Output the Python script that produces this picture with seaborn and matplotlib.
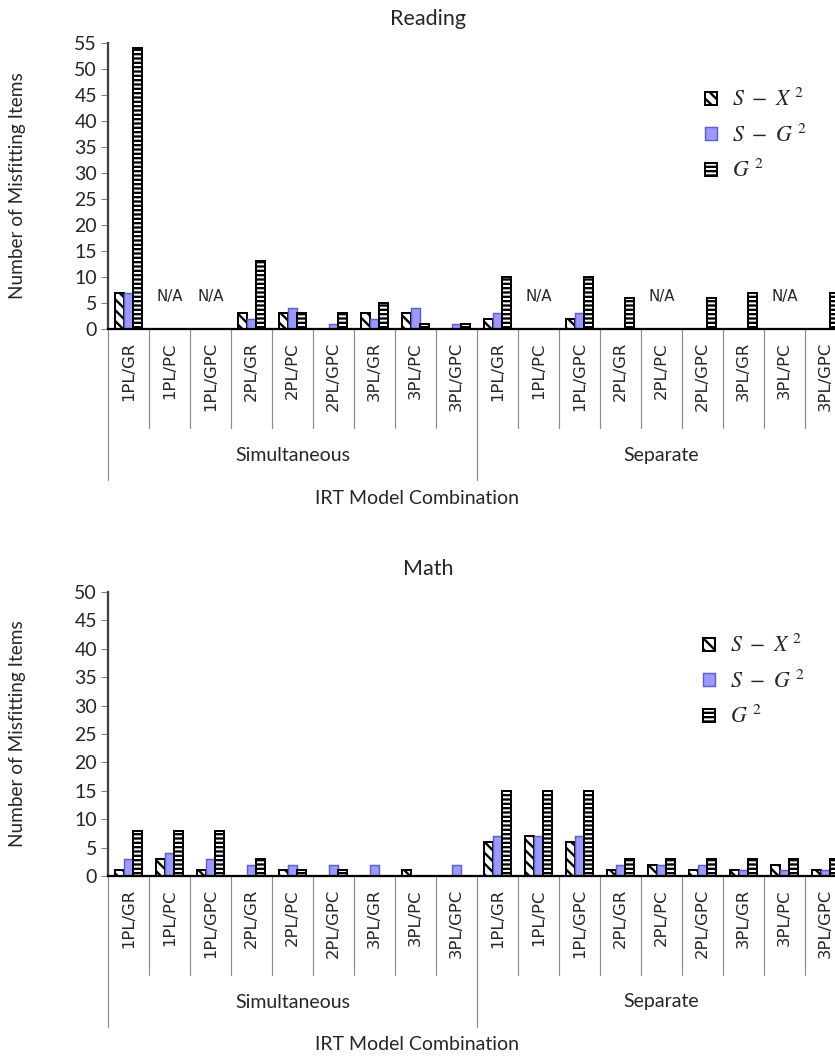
import numpy as np
import pandas as pd
import seaborn as sns
import matplotlib.pyplot as plt
from matplotlib.patches import Patch

DPI = 130
W, H = 835, 1061


def pt(px):
    # pixel size -> points at this dpi
    return px * 72 / DPI


nan = np.nan
groups = ["Simultaneous", "Separate"]
models = ["1PL/GR", "1PL/PC", "1PL/GPC", "2PL/GR", "2PL/PC", "2PL/GPC",
          "3PL/GR", "3PL/PC", "3PL/GPC"]
stats = ["S-X2", "S-G2", "G2"]
stat_labels = [r"$S\ -\ X^{\ 2}$", r"$S\ -\ G^{\ 2}$", r"$G^{\ 2}$"]

# Reading: Simultaneous then Separate (nan = N/A)
reading_sx2 = [7, nan, nan, 3, 3, 0, 3, 3, 0,
               2, nan, 2, 0, nan, 0, 0, nan, 0]
reading_sg2 = [7, nan, nan, 2, 4, 1, 2, 4, 1,
               3, nan, 3, 0, nan, 0, 0, nan, 0]
reading_g2 = [54, nan, nan, 13, 3, 3, 5, 1, 1,
              10, nan, 10, 6, nan, 6, 7, nan, 7]

# Math
math_sx2 = [1, 3, 1, 0, 1, 0, 0, 1, 0,
            6, 7, 6, 1, 2, 1, 1, 2, 1]
math_sg2 = [3, 4, 3, 2, 2, 2, 2, 0, 2,
            7, 7, 7, 2, 2, 2, 1, 1, 1]
math_g2 = [8, 8, 8, 3, 1, 1, 0, 0, 0,
           15, 15, 15, 3, 3, 3, 3, 3, 3]

styles = {
    "S-X2": dict(facecolor="white", edgecolor="black", hatch="\\" * 4, linewidth=1.1),
    "S-G2": dict(facecolor="#9999FF", edgecolor="#6060c0", linewidth=0.8),
    "G2": dict(facecolor="white", edgecolor="black", hatch="-----", linewidth=1.1),
}

sns.set_theme(style="ticks")
plt.rcParams["font.family"] = ["Lato", "DejaVu Sans"]
plt.rcParams["mathtext.fontset"] = "stix"
plt.rcParams["hatch.linewidth"] = 1.3

keys = [f"{g}|{m}" for g in groups for m in models]


def make_df(sx2, sg2, g2):
    rows = []
    for stat, vals in zip(stats, [sx2, sg2, g2]):
        for k, v in zip(keys, vals):
            rows.append((k, stat, v))
    return pd.DataFrame(rows, columns=["combo", "stat", "count"])


def draw_panel(fig, top_px, base_px, ymax, df, title, title_y, legend_xy):
    ax_h = base_px - top_px
    ax = fig.add_axes([108 / W, 1 - base_px / H, (846 - 108) / W, ax_h / H])
    sns.barplot(data=df, x="combo", y="count", hue="stat", order=keys,
                hue_order=stats, palette={s: styles[s]["facecolor"] for s in stats},
                saturation=1, width=0.68, errorbar=None, legend=False, ax=ax)
    for stat, cont in zip(stats, ax.containers):
        for bar in cont:
            bar.set(**styles[stat])

    ax.set_xlim(-0.5, len(keys) - 0.5)
    ax.set_ylim(0, ymax)
    ax.set_yticks(range(0, ymax + 1, 5))
    ax.set_xlabel("")
    ax.set_ylabel("")
    sns.despine(ax=ax)
    ax.spines["left"].set_color("#404040")
    ax.spines["bottom"].set_color("black")
    ax.tick_params(axis="y", length=pt(7), width=pt(1), color="#808080",
                   pad=pt(4), labelsize=pt(19.5))
    ax.set_xticks(range(len(keys)))
    ax.set_xticklabels(models * 2, rotation=90, fontfamily="DejaVu Sans",
                       fontsize=pt(16.5))
    ax.tick_params(axis="x", length=0, pad=pt(13))

    tr = ax.get_xaxis_transform()
    # separators for the two-level category axis
    for i in range(len(keys) + 1):
        depth = 151 if i % len(models) == 0 else 99
        ax.plot([i - 0.5, i - 0.5], [0, -depth / ax_h], transform=tr,
                color="#8c8c8c", lw=pt(1.2), clip_on=False)
    for gi, g in enumerate(groups):
        ax.text(gi * len(models) + (len(models) - 1) / 2, -126 / ax_h, g,
                transform=tr, ha="center", va="center", fontsize=pt(19.5))

    # N/A markers where no statistic was computed
    vals = df.pivot(index="combo", columns="stat", values="count").reindex(keys)
    for i, k in enumerate(keys):
        if vals.loc[k].isna().all():
            ax.text(i, 33 / ax_h, "N/A", transform=tr, ha="center", va="center",
                    fontfamily="DejaVu Sans", fontsize=pt(15))

    fig.text(428 / W, 1 - title_y / H, title, ha="center", va="center",
             fontsize=pt(21.5))
    fig.text(18 / W, 1 - (top_px + base_px) / 2 / H, "Number of Misfitting Items",
             rotation=90, ha="center", va="center", fontsize=pt(19))
    fig.text(417 / W, 1 - (base_px + 169) / H, "IRT Model Combination",
             ha="center", va="center", fontsize=pt(19.5))

    handles = [Patch(label=lab, **styles[s]) for s, lab in zip(stats, stat_labels)]
    ax.legend(handles=handles, loc="upper left",
              bbox_to_anchor=(legend_xy[0] / W, 1 - legend_xy[1] / H),
              bbox_transform=fig.transFigure, frameon=False, fontsize=pt(22),
              handlelength=0.55, handleheight=0.55, handletextpad=0.7,
              labelspacing=0.6, borderpad=0, borderaxespad=0)
    return ax


fig = plt.figure(figsize=(W / DPI, H / DPI), dpi=DPI)
draw_panel(fig, 43, 329, 55, make_df(reading_sx2, reading_sg2, reading_g2),
           "Reading", 19, (705, 88))
draw_panel(fig, 592, 876, 50, make_df(math_sx2, math_sg2, math_g2),
           "Math", 569, (703, 634))

fig.savefig("out.png", dpi=DPI)
